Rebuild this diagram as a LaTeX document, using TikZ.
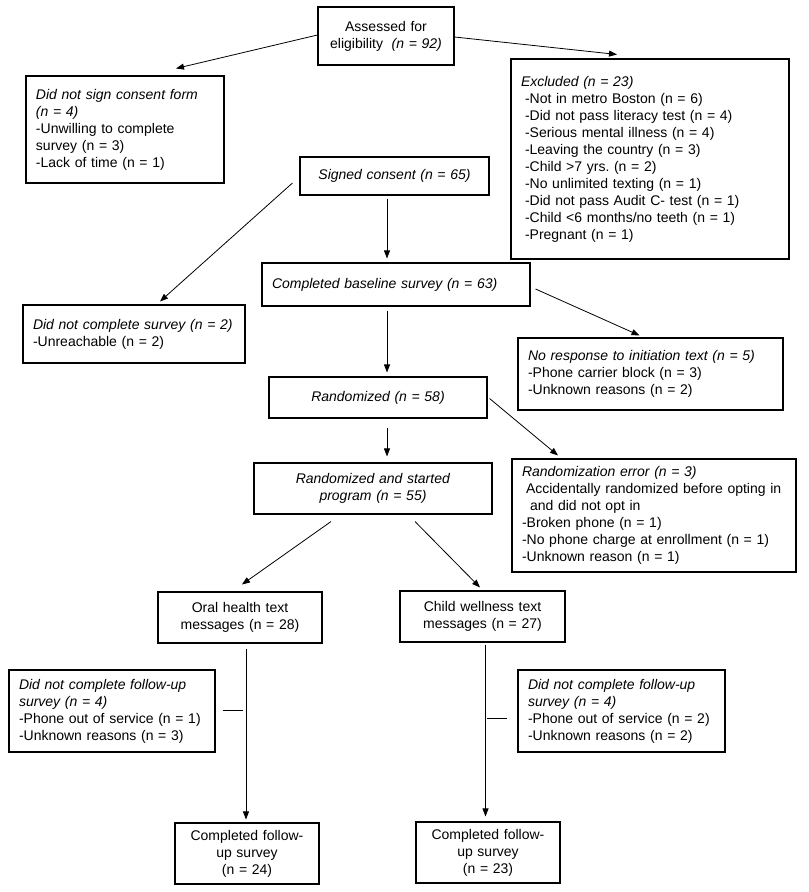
\documentclass[tikz,border=0pt]{standalone}
\usepackage{fontspec}
\setmainfont{Liberation Sans}
\usetikzlibrary{arrows.meta,calc}
\frenchspacing
\newcommand\fs{\fontsize{10.5pt}{12.75pt}\selectfont}
\newcommand\ind{\hspace*{3pt}}
\newcommand\mybox[7]{%
  \pgfmathsetmacro\cx{(#2+#4)/2}%
  \pgfmathsetmacro\cy{(#3+#5)/2}%
  \pgfmathsetmacro\tw{(#4-#2)*0.75-15}%
  \pgfmathsetmacro\mh{(#5-#3)*0.75}%
  \node[box, align=#6, text width=\tw pt, minimum height=\mh pt] (#1) at (\cx,\cy) {#7};%
}
\begin{document}
\begin{tikzpicture}[x=0.75pt, y=-0.75pt,
  box/.style={draw, line width=0.8pt, inner ysep=0pt, inner xsep=7.5pt, font=\fs},
  arr/.style={line width=0.6pt, -{Triangle[length=6pt,width=4.5pt]}},
  ln/.style={line width=0.6pt}]
\fill[white] (0,0) rectangle (808,892);
\useasboundingbox (0,0) rectangle (808,892);

\mybox{A}{318}{7}{454}{65}{center}{Assessed for\\ eligibility\hspace{3pt} \textit{(n = 92)}}
\mybox{B}{26}{76}{224}{183}{left}{\textit{Did not sign consent form}\\ \textit{(n = 4)}\\ -Unwilling to complete\\ survey (n = 3)\\ -Lack of time (n = 1)}
\mybox{C}{511}{59}{789}{259}{left}{\textit{Excluded (n = 23)}\\
 \ind-Not in metro Boston (n = 6)\\
 \ind-Did not pass literacy test (n = 4)\\
 \ind-Serious mental illness (n = 4)\\
 \ind-Leaving the country (n = 3)\\
 \ind-Child >7 yrs. (n = 2)\\
 \ind-No unlimited texting (n = 1)\\
 \ind-Did not pass Audit C- test (n = 1)\\
 \ind-Child <6 months/no teeth (n = 1)\\
 \ind-Pregnant (n = 1)}
\mybox{D}{300}{157}{489}{195}{center}{\textit{Signed consent (n = 65)}}
\mybox{E}{262}{263}{530}{306}{left}{\textit{Completed baseline survey (n = 63)}}
\mybox{F}{23}{305}{245}{363}{left}{\textit{Did not complete survey (n = 2)}\\ -Unreachable (n = 2)}
\mybox{G}{518}{338}{783}{410}{left}{\textit{No response to initiation text (n = 5)}\\ -Phone carrier block (n = 3)\\ -Unknown reasons (n = 2)}
\mybox{H}{269}{377}{487}{418}{center}{\textit{Randomized (n = 58)}}
\mybox{I}{254}{463}{492}{514}{center}{\textit{Randomized and started}\\ \textit{program (n = 55)}}
\mybox{J}{512}{459}{796}{572}{left}{\textit{Randomization error (n = 3)}\\
 \hspace*{3pt}Accidentally randomized before opting in\\
 \hspace*{6pt}and did not opt in\\
 -Broken phone (n = 1)\\
 -No phone charge at enrollment (n = 1)\\
 -Unknown reason (n = 1)}
\mybox{K}{158}{592}{322}{643}{center}{Oral health text\\ messages (n = 28)}
\mybox{L}{400}{591}{565}{642}{center}{Child wellness text\\ messages (n = 27)}
\mybox{M}{9}{670}{215}{752}{left}{\textit{Did not complete follow-up}\\ \textit{survey (n = 4)}\\ -Phone out of service (n = 1)\\ -Unknown reasons (n = 3)}
\mybox{N}{518}{670}{725}{752}{left}{\textit{Did not complete follow-up}\\ \textit{survey (n = 4)}\\ -Phone out of service (n = 2)\\ -Unknown reasons (n = 2)}
\mybox{O}{175}{823}{319}{884}{center}{Completed follow-\\ up survey\\ (n = 24)}
\mybox{P}{416}{822}{560}{883}{center}{Completed follow-\\ up survey\\ (n = 23)}

% connectors
\draw[arr] ($(A.west)+(0,-1)$) -- ($(B.north)+(51,-7)$);
\draw[arr] ($(A.east)+(0,1)$) -- ($(C.north)+(-33,-4)$);
\draw[arr] ($(D.west)+(-7,7)$) -- ($(F.north)+(26,-3)$);
\draw[arr] ($(D.south)+(-7.5,3)$) -- ($(E.north)+(-9,-4)$);
\draw[arr] ($(E.east)+(5,4.5)$) -- ($(G.north)+(-11,-2)$);
\draw[arr] ($(E.south)+(-9,4)$) -- ($(H.north)+(9,-4)$);
\draw[arr] ($(H.south)+(9,9)$) -- ($(I.north)+(14,-6)$);
\draw[arr] ($(H.east)+(2,1)$) -- ($(J.north)+(-96,-3)$);
\draw[arr] ($(I.south)+(-42,7)$) -- ($(K.north)+(2,-7)$);
\draw[arr] ($(I.south)+(42,7)$) -- ($(L.north)+(-2.5,-3)$);
\draw[arr] ($(K.south)+(6,5)$) -- ($(O.north)+(-1,-3)$);
\draw[arr] ($(L.south)+(3,2)$) -- ($(P.north)+(-2.5,-5)$);
\coordinate (m1) at ($(M.east)+(7,-1)$);
\coordinate (m2) at ($(M.east)+(27,-1)$);
\coordinate (n1) at ($(N.west)+(-30,7)$);
\coordinate (n2) at ($(N.west)+(-10,7)$);
\draw[ln] (m1) -- (m2);
\draw[ln] (n1) -- (n2);
\end{tikzpicture}
\end{document}
